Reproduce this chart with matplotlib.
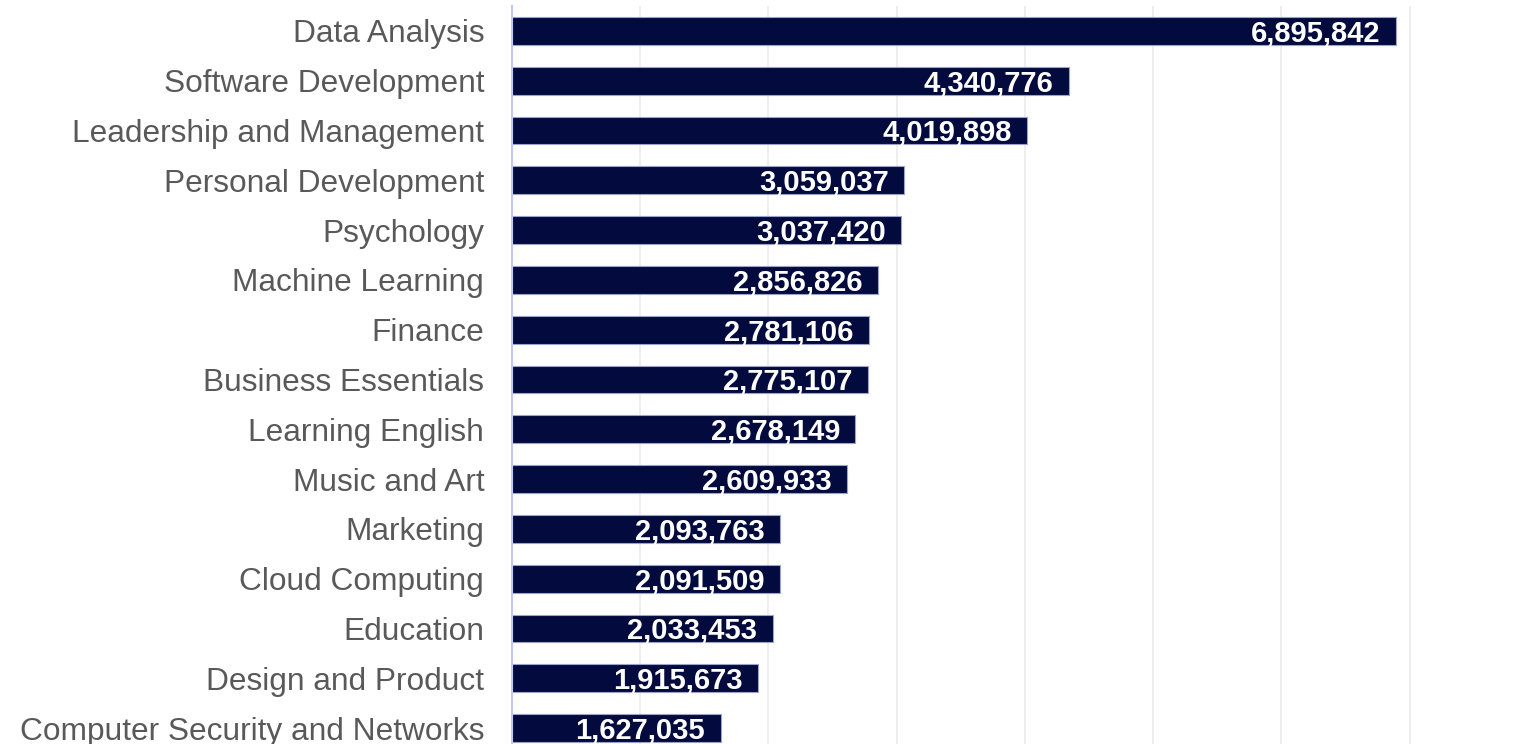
import matplotlib.pyplot as plt
from matplotlib.ticker import MultipleLocator

plt.rcParams['font.family'] = ['Liberation Sans', 'DejaVu Sans']

categories = [
    'Data Analysis', 'Software Development', 'Leadership and Management',
    'Personal Development', 'Psychology', 'Machine Learning', 'Finance',
    'Business Essentials', 'Learning English', 'Music and Art', 'Marketing',
    'Cloud Computing', 'Education', 'Design and Product',
    'Computer Security and Networks',
]
enrollments = [
    6895842, 4340776, 4019898, 3059037, 3037420, 2856826, 2781106,
    2775107, 2678149, 2609933, 2093763, 2091509, 2033453, 1915673,
    1627035,
]

W, H = 1524, 744
fig = plt.figure(figsize=(W / 100, H / 100), dpi=100)
# plot area runs a little past the bottom edge, so the last bar is clipped
left, right, top, bottom = 512, 1525, 6, 753
ax = fig.add_axes([left / W, 1 - bottom / H, (right - left) / W, (bottom - top) / H])

ypos = list(range(len(categories)))
ax.barh(ypos, enrollments, height=0.56, color='#020A3E',
        edgecolor='#9aa3cc', linewidth=0.8, zorder=3)

# value labels sit just inside the bar ends, nudged down a touch
for y, v in zip(ypos, enrollments):
    ax.text(v - 120000, y + 0.05, f'{v:,}', ha='right', va='center',
            color='white', fontsize=21, fontweight='bold', zorder=4)

ax.set_yticks(ypos)
ax.set_yticklabels(categories, fontsize=22.8, color='#595959')
ax.set_ylim(len(categories) - 0.5, -0.5)
ax.set_xlim(0, 7.9e6)
ax.xaxis.set_major_locator(MultipleLocator(1e6))
ax.grid(axis='x', color='#ebebeb', linewidth=1.2, zorder=0)
ax.tick_params(axis='y', length=0, pad=20)
ax.tick_params(axis='x', length=0, labelbottom=False)

for side in ['top', 'right', 'bottom']:
    ax.spines[side].set_visible(False)
ax.spines['left'].set_color('#c3c9f5')
ax.spines['left'].set_linewidth(1.5)
ax.spines['left'].set_zorder(5)

fig.savefig('out.png', dpi=100)
